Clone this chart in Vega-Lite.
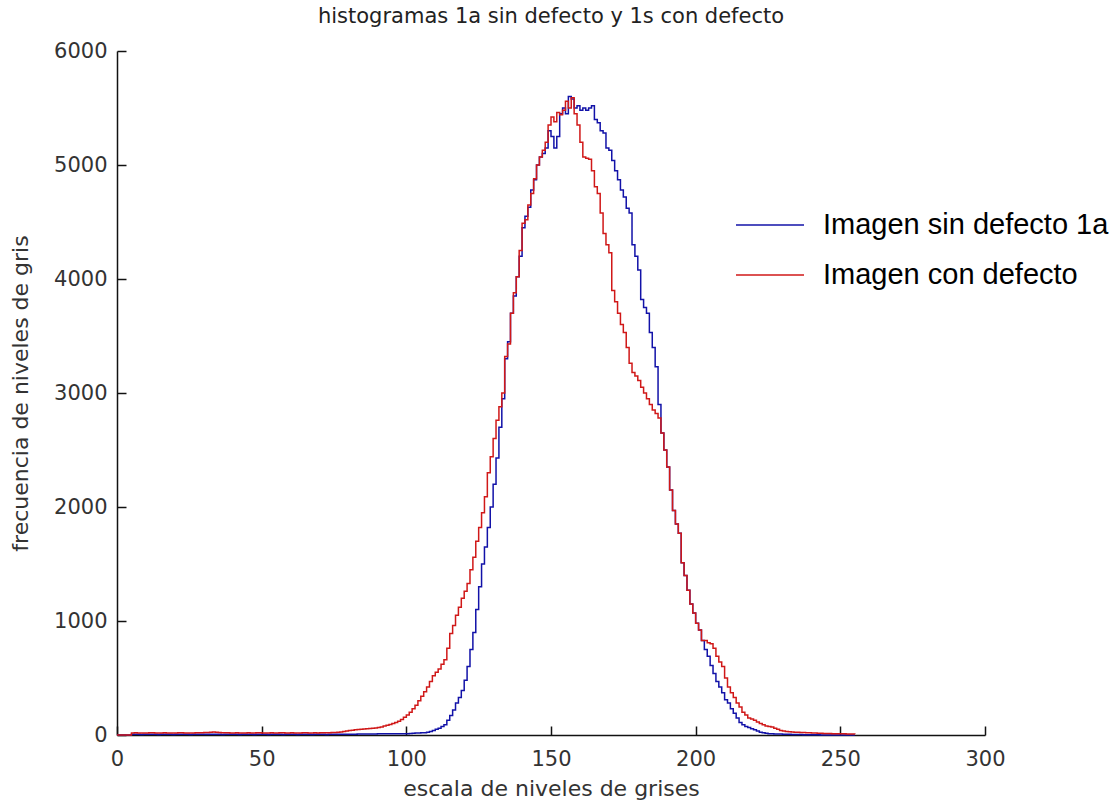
{
  "$schema": "https://vega.github.io/schema/vega-lite/v6.json",
  "width": 868,
  "height": 684,
  "autosize": {"type": "none"},
  "padding": {"left": 117, "top": 51, "right": 132, "bottom": 70},
  "background": "white",
  "title": {"text": "histogramas 1a sin defecto y 1s con defecto", "font": "DejaVu Sans", "fontSize": 21, "fontWeight": "normal", "color": "#222", "anchor": "middle", "offset": 13},
  "data": {"values": [
    {"g":0,"sin":0,"con":0},{"g":1,"sin":0,"con":0},{"g":2,"sin":0,"con":0},{"g":3,"sin":0,"con":0},{"g":4,"sin":0,"con":0},
    {"g":5,"sin":6,"con":18},{"g":6,"sin":7,"con":19},{"g":7,"sin":6,"con":18},{"g":8,"sin":5,"con":17},{"g":9,"sin":6,"con":18},
    {"g":10,"sin":7,"con":18},{"g":11,"sin":6,"con":19},{"g":12,"sin":6,"con":20},{"g":13,"sin":7,"con":18},{"g":14,"sin":5,"con":17},
    {"g":15,"sin":6,"con":18},{"g":16,"sin":6,"con":19},{"g":17,"sin":7,"con":18},{"g":18,"sin":6,"con":18},{"g":19,"sin":5,"con":17},
    {"g":20,"sin":6,"con":18},{"g":21,"sin":6,"con":19},{"g":22,"sin":7,"con":20},{"g":23,"sin":6,"con":18},{"g":24,"sin":6,"con":18},
    {"g":25,"sin":5,"con":17},{"g":26,"sin":6,"con":18},{"g":27,"sin":7,"con":19},{"g":28,"sin":6,"con":19},{"g":29,"sin":6,"con":20},
    {"g":30,"sin":6,"con":21},{"g":31,"sin":7,"con":23},{"g":32,"sin":6,"con":25},{"g":33,"sin":6,"con":26},{"g":34,"sin":7,"con":25},
    {"g":35,"sin":6,"con":22},{"g":36,"sin":5,"con":20},{"g":37,"sin":6,"con":19},{"g":38,"sin":6,"con":19},{"g":39,"sin":7,"con":18},
    {"g":40,"sin":6,"con":18},{"g":41,"sin":6,"con":19},{"g":42,"sin":5,"con":18},{"g":43,"sin":6,"con":17},{"g":44,"sin":7,"con":18},
    {"g":45,"sin":6,"con":19},{"g":46,"sin":6,"con":18},{"g":47,"sin":5,"con":18},{"g":48,"sin":6,"con":19},{"g":49,"sin":7,"con":20},
    {"g":50,"sin":6,"con":18},{"g":51,"sin":6,"con":17},{"g":52,"sin":5,"con":18},{"g":53,"sin":6,"con":19},{"g":54,"sin":7,"con":18},
    {"g":55,"sin":6,"con":18},{"g":56,"sin":6,"con":19},{"g":57,"sin":5,"con":20},{"g":58,"sin":6,"con":18},{"g":59,"sin":7,"con":18},
    {"g":60,"sin":6,"con":19},{"g":61,"sin":6,"con":18},{"g":62,"sin":5,"con":17},{"g":63,"sin":6,"con":18},{"g":64,"sin":7,"con":19},
    {"g":65,"sin":6,"con":20},{"g":66,"sin":6,"con":18},{"g":67,"sin":5,"con":18},{"g":68,"sin":6,"con":19},{"g":69,"sin":7,"con":18},
    {"g":70,"sin":6,"con":19},{"g":71,"sin":6,"con":20},{"g":72,"sin":5,"con":19},{"g":73,"sin":6,"con":20},{"g":74,"sin":7,"con":21},
    {"g":75,"sin":6,"con":22},{"g":76,"sin":6,"con":24},{"g":77,"sin":6,"con":26},{"g":78,"sin":7,"con":30},{"g":79,"sin":7,"con":35},
    {"g":80,"sin":7,"con":40},{"g":81,"sin":7,"con":42},{"g":82,"sin":7,"con":45},{"g":83,"sin":8,"con":48},{"g":84,"sin":8,"con":50},
    {"g":85,"sin":8,"con":52},{"g":86,"sin":8,"con":55},{"g":87,"sin":9,"con":58},{"g":88,"sin":9,"con":60},{"g":89,"sin":9,"con":62},
    {"g":90,"sin":10,"con":65},{"g":91,"sin":10,"con":70},{"g":92,"sin":10,"con":78},{"g":93,"sin":10,"con":85},{"g":94,"sin":11,"con":92},
    {"g":95,"sin":11,"con":100},{"g":96,"sin":11,"con":110},{"g":97,"sin":12,"con":120},{"g":98,"sin":12,"con":135},{"g":99,"sin":12,"con":155},
    {"g":100,"sin":12,"con":175},{"g":101,"sin":14,"con":200},{"g":102,"sin":15,"con":230},{"g":103,"sin":17,"con":260},{"g":104,"sin":18,"con":300},
    {"g":105,"sin":20,"con":340},{"g":106,"sin":20,"con":380},{"g":107,"sin":25,"con":420},{"g":108,"sin":30,"con":470},{"g":109,"sin":40,"con":520},
    {"g":110,"sin":50,"con":550},{"g":111,"sin":60,"con":580},{"g":112,"sin":75,"con":620},{"g":113,"sin":90,"con":660},{"g":114,"sin":130,"con":760},
    {"g":115,"sin":170,"con":890},{"g":116,"sin":220,"con":960},{"g":117,"sin":280,"con":1050},{"g":118,"sin":330,"con":1120},{"g":119,"sin":390,"con":1200},
    {"g":120,"sin":480,"con":1260},{"g":121,"sin":600,"con":1330},{"g":122,"sin":750,"con":1450},{"g":123,"sin":900,"con":1560},{"g":124,"sin":1100,"con":1700},
    {"g":125,"sin":1300,"con":1820},{"g":126,"sin":1500,"con":1950},{"g":127,"sin":1650,"con":2090},{"g":128,"sin":1820,"con":2300},{"g":129,"sin":2000,"con":2440},
    {"g":130,"sin":2200,"con":2600},{"g":131,"sin":2430,"con":2760},{"g":132,"sin":2700,"con":2880},{"g":133,"sin":2950,"con":3000},{"g":134,"sin":3300,"con":3320},
    {"g":135,"sin":3450,"con":3430},{"g":136,"sin":3700,"con":3700},{"g":137,"sin":3850,"con":3880},{"g":138,"sin":4020,"con":4020},{"g":139,"sin":4200,"con":4250},
    {"g":140,"sin":4450,"con":4490},{"g":141,"sin":4550,"con":4520},{"g":142,"sin":4630,"con":4650},{"g":143,"sin":4780,"con":4750},{"g":144,"sin":4870,"con":4880},
    {"g":145,"sin":5000,"con":5000},{"g":146,"sin":5070,"con":5070},{"g":147,"sin":5100,"con":5130},{"g":148,"sin":5150,"con":5200},{"g":149,"sin":5300,"con":5350},
    {"g":150,"sin":5250,"con":5420},{"g":151,"sin":5150,"con":5380},{"g":152,"sin":5250,"con":5460},{"g":153,"sin":5450,"con":5440},{"g":154,"sin":5500,"con":5480},
    {"g":155,"sin":5450,"con":5560},{"g":156,"sin":5600,"con":5500},{"g":157,"sin":5580,"con":5590},{"g":158,"sin":5500,"con":5450},{"g":159,"sin":5520,"con":5350},
    {"g":160,"sin":5480,"con":5200},{"g":161,"sin":5500,"con":5070},{"g":162,"sin":5480,"con":5060},{"g":163,"sin":5500,"con":5050},{"g":164,"sin":5520,"con":4950},
    {"g":165,"sin":5400,"con":4810},{"g":166,"sin":5370,"con":4750},{"g":167,"sin":5300,"con":4580},{"g":168,"sin":5280,"con":4400},{"g":169,"sin":5150,"con":4300},
    {"g":170,"sin":5130,"con":4230},{"g":171,"sin":5040,"con":3900},{"g":172,"sin":4950,"con":3800},{"g":173,"sin":4870,"con":3700},{"g":174,"sin":4780,"con":3600},
    {"g":175,"sin":4720,"con":3530},{"g":176,"sin":4620,"con":3400},{"g":177,"sin":4580,"con":3260},{"g":178,"sin":4300,"con":3180},{"g":179,"sin":4200,"con":3150},
    {"g":180,"sin":4080,"con":3110},{"g":181,"sin":3820,"con":3050},{"g":182,"sin":3750,"con":3000},{"g":183,"sin":3700,"con":2950},{"g":184,"sin":3530,"con":2900},
    {"g":185,"sin":3400,"con":2850},{"g":186,"sin":3230,"con":2820},{"g":187,"sin":2900,"con":2780},{"g":188,"sin":2650,"con":2650},{"g":189,"sin":2500,"con":2500},
    {"g":190,"sin":2350,"con":2350},{"g":191,"sin":2150,"con":2150},{"g":192,"sin":1970,"con":1970},{"g":193,"sin":1850,"con":1850},{"g":194,"sin":1770,"con":1770},
    {"g":195,"sin":1510,"con":1510},{"g":196,"sin":1400,"con":1400},{"g":197,"sin":1270,"con":1270},{"g":198,"sin":1150,"con":1150},{"g":199,"sin":1070,"con":1070},
    {"g":200,"sin":980,"con":980},{"g":201,"sin":920,"con":920},{"g":202,"sin":830,"con":830},{"g":203,"sin":750,"con":830},{"g":204,"sin":690,"con":810},
    {"g":205,"sin":610,"con":800},{"g":206,"sin":540,"con":760},{"g":207,"sin":470,"con":690},{"g":208,"sin":420,"con":640},{"g":209,"sin":370,"con":600},
    {"g":210,"sin":310,"con":500},{"g":211,"sin":280,"con":420},{"g":212,"sin":230,"con":370},{"g":213,"sin":190,"con":330},{"g":214,"sin":150,"con":280},
    {"g":215,"sin":110,"con":245},{"g":216,"sin":90,"con":200},{"g":217,"sin":75,"con":175},{"g":218,"sin":65,"con":150},{"g":219,"sin":55,"con":140},
    {"g":220,"sin":45,"con":130},{"g":221,"sin":35,"con":115},{"g":222,"sin":25,"con":100},{"g":223,"sin":20,"con":90},{"g":224,"sin":15,"con":80},
    {"g":225,"sin":12,"con":75},{"g":226,"sin":10,"con":70},{"g":227,"sin":9,"con":60},{"g":228,"sin":8,"con":50},{"g":229,"sin":8,"con":40},
    {"g":230,"sin":7,"con":35},{"g":231,"sin":6,"con":30},{"g":232,"sin":6,"con":28},{"g":233,"sin":5,"con":27},{"g":234,"sin":5,"con":25},
    {"g":235,"sin":4,"con":24},{"g":236,"sin":4,"con":22},{"g":237,"sin":3,"con":21},{"g":238,"sin":3,"con":20},{"g":239,"sin":3,"con":19},
    {"g":240,"sin":2,"con":18},{"g":241,"sin":2,"con":17},{"g":242,"sin":2,"con":16},{"g":243,"sin":1,"con":15},{"g":244,"sin":1,"con":14},
    {"g":245,"sin":1,"con":14},{"g":246,"sin":1,"con":13},{"g":247,"sin":0,"con":12},{"g":248,"sin":0,"con":12},{"g":249,"sin":0,"con":11},
    {"g":250,"sin":0,"con":10},{"g":251,"sin":0,"con":10},{"g":252,"sin":0,"con":9},{"g":253,"sin":0,"con":8},{"g":254,"sin":0,"con":8},
    {"g":255,"sin":0,"con":7}
  ]},
  "transform": [{"fold": ["sin", "con"], "as": ["serie", "frecuencia"]}],
  "mark": {"type": "line", "interpolate": "step-after", "strokeWidth": 1.5},
  "encoding": {
    "x": {
      "field": "g", "type": "quantitative",
      "scale": {"domain": [0, 300], "nice": false},
      "axis": {
        "title": "escala de niveles de grises",
        "values": [0, 50, 100, 150, 200, 250, 300],
        "format": "d",
        "grid": false,
        "tickSize": -9, "tickColor": "#111", "tickWidth": 1.5,
        "domainColor": "#111", "domainWidth": 1.5,
        "labelFont": "DejaVu Sans", "labelFontSize": 21, "labelColor": "#333",
        "labelPadding": 22, "labelFlush": false,
        "titleFont": "DejaVu Sans", "titleFontSize": 22, "titleFontWeight": "normal", "titleColor": "#333",
        "titlePadding": 9
      }
    },
    "y": {
      "field": "frecuencia", "type": "quantitative",
      "scale": {"domain": [0, 6000], "nice": false},
      "axis": {
        "title": "frecuencia de niveles de gris",
        "values": [0, 1000, 2000, 3000, 4000, 5000, 6000],
        "format": "d",
        "grid": false,
        "tickSize": -9, "tickColor": "#111", "tickWidth": 1.5,
        "domainColor": "#111", "domainWidth": 1.5,
        "labelFont": "DejaVu Sans", "labelFontSize": 21, "labelColor": "#333",
        "labelPadding": 19, "labelFlush": false,
        "titleFont": "DejaVu Sans", "titleFontSize": 22, "titleFontWeight": "normal", "titleColor": "#333",
        "titlePadding": 21
      }
    },
    "color": {
      "field": "serie", "type": "nominal",
      "scale": {"domain": ["sin", "con"], "range": ["#1212a8", "#d01818"]},
      "legend": {
        "orient": "none", "legendX": 618, "legendY": 139,
        "title": null, "padding": 0,
        "symbolType": "stroke", "symbolSize": 4624, "symbolStrokeWidth": 1.5,
        "labelFont": "Liberation Sans", "labelFontSize": 29, "labelColor": "#000",
        "labelOffset": 18, "labelLimit": 500, "rowPadding": -13,
        "labelExpr": "datum.value == 'sin' ? 'Imagen sin defecto 1a' : 'Imagen con defecto'"
      }
    }
  },
  "config": {"view": {"stroke": null}}
}
